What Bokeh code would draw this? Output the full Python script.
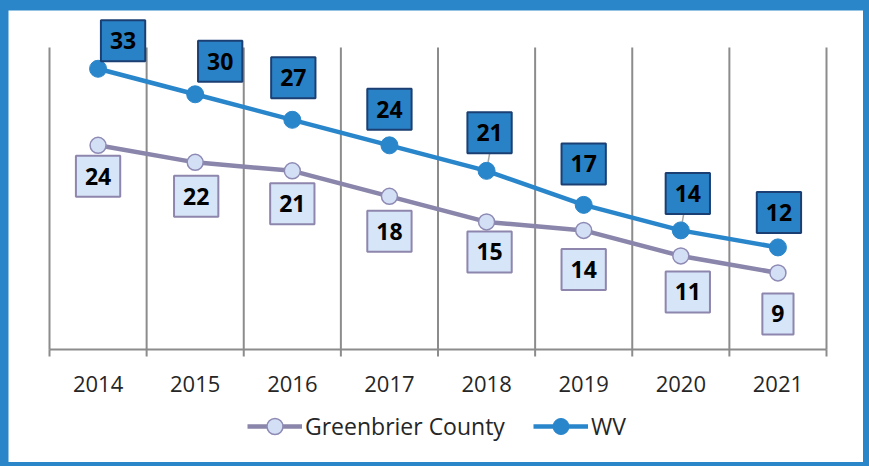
import math
from bokeh.plotting import figure
from bokeh.models import Range1d, Label, Legend, LegendItem
from bokeh.layouts import column
from bokeh.embed import file_html
from bokeh.resources import INLINE

# ---- data ----
years = [2014, 2015, 2016, 2017, 2018, 2019, 2020, 2021]
year_labels = ["2014", "2015", "2016", "2017", "2018", "2019", "2020", "2021"]
greenbrier = [24, 22, 21, 18, 15, 14, 11, 9]
wv = [33, 30, 27, 24, 21, 17, 14, 12]
series_names = ["Greenbrier County", "WV"]
Y_MAX = 35.5   # value axis maximum (top of gridlines)

# ---- label offsets in screen pixels (style, not data) ----
wv_dx = [25, 25, 1, 0, 3, 0, 7, 1]
wv_dy = [28, 33, 42, 36, 38, 41, 37, 35]
gb_dx = [0, 1, 0, 0, 3, 0, 7, 0]
gb_dy = [-31, -34, -33, -35, -30, -39, -36, -41]
wv_leader = [False, False, False, False, True, False, True, False]

# ---- colours ----
FRAME_BLUE = "#2A86C8"
WV_BLUE = "#2A86CB"
WV_BOX = "#2A82C6"
WV_BOX_BORDER = "#1B3F73"
GB_LINE = "#8A85AA"
GB_FILL = "#D3DFF5"
GB_MARK_LINE = "#8E8AB4"
GB_BOX = "#D7E5F8"
GB_BOX_BORDER = "#8E86AD"
GRID = "#8C8C8C"
TEXT = "#262626"
FONT = "Open Sans"

# ---- layout geometry (pixels inside the figure) ----
FIG_W, FIG_H = 855, 452
PLOT_L, PLOT_R = 41, 818      # left / right edge of the category area
PLOT_T, AXIS_Y = 37, 339      # top of gridlines / axis line (from top)

px_per_cat = (PLOT_R - PLOT_L) / len(years)
px_per_unit = (AXIS_Y - PLOT_T) / Y_MAX
x_start = years[0] - 0.5 - PLOT_L / px_per_cat
x_end = years[-1] + 0.5 + (FIG_W - PLOT_R) / px_per_cat
y_end = AXIS_Y / px_per_unit
y_start = -(FIG_H - AXIS_Y) / px_per_unit

p = figure(
    width=FIG_W, height=FIG_H,
    x_range=Range1d(x_start, x_end), y_range=Range1d(y_start, y_end),
    x_axis_type=None, y_axis_type=None,
    output_backend="svg", toolbar_location=None,
    min_border=0, min_border_left=0, min_border_right=0,
    min_border_top=0, min_border_bottom=0,
)
p.outline_line_color = None
p.background_fill_color = "white"
p.border_fill_color = "white"
p.grid.visible = False

bounds = [y - 0.5 for y in years] + [years[-1] + 0.5]
n = len(bounds)

# category-boundary gridlines
p.segment(x0=bounds, y0=[0] * n, x1=bounds, y1=[Y_MAX] * n,
          line_color=GRID, line_width=2)
# axis line and tick marks
p.segment(x0=[bounds[0]], y0=[0], x1=[bounds[-1]], y1=[0],
          line_color=GRID, line_width=2)
p.ray(x=bounds, y=[0] * n, length=7, length_units="screen", angle=-math.pi / 2,
      line_color=GRID, line_width=2)
# category labels
p.text(x=years, y=[0] * len(years), text=year_labels, y_offset=34,
       text_align="center", text_baseline="middle",
       text_font={"value": FONT}, text_font_size="22px", text_color=TEXT)

# leader lines from WV points to their labels
lx = [x for x, f in zip(years, wv_leader) if f]
ly = [v for v, f in zip(wv, wv_leader) if f]
p.ray(x=lx, y=ly, length=19, length_units="screen", angle=math.radians(80),
      line_color="#A6A6A6", line_width=1.5)

gb_line = p.line(years, greenbrier, line_color=GB_LINE, line_width=4.5)
gb_pts = p.scatter(years, greenbrier, size=16, fill_color=GB_FILL,
                   line_color=GB_MARK_LINE, line_width=1.5)
wv_line = p.line(years, wv, line_color=WV_BLUE, line_width=4.5)
wv_pts = p.scatter(years, wv, size=17, fill_color=WV_BLUE, line_color=WV_BLUE)

for x, v, dx, dy in zip(years, wv, wv_dx, wv_dy):
    p.add_layout(Label(
        x=x, y=v, x_offset=dx, y_offset=dy, text=str(v),
        text_align="center", text_baseline="middle",
        text_font=FONT, text_font_style="bold", text_font_size="23px",
        text_color="black", padding=(9, 12),
        background_fill_color=WV_BOX, border_line_color=WV_BOX_BORDER,
        border_line_width=2,
    ))

for x, v, dx, dy in zip(years, greenbrier, gb_dx, gb_dy):
    p.add_layout(Label(
        x=x, y=v, x_offset=dx, y_offset=dy, text=str(v),
        text_align="center", text_baseline="middle",
        text_font=FONT, text_font_style="bold", text_font_size="23px",
        text_color="black", padding=(9, 12),
        background_fill_color=GB_BOX, border_line_color=GB_BOX_BORDER,
        border_line_width=2,
    ))

legend = Legend(
    items=[LegendItem(label=series_names[0], renderers=[gb_line, gb_pts]),
           LegendItem(label=series_names[1], renderers=[wv_line, wv_pts])],
    orientation="horizontal", location=(239, 16),
    glyph_width=55, glyph_height=40, label_standoff=3, spacing=28,
    padding=0, margin=0, border_line_color=None, background_fill_alpha=0,
    label_text_font=FONT, label_text_font_size="23px", label_text_color=TEXT,
)
p.add_layout(legend)

layout = column(p, styles={"background-color": FRAME_BLUE, "padding": "10px 6px 4px 8px"})

open("out.html", "w").write(file_html(layout, INLINE))
